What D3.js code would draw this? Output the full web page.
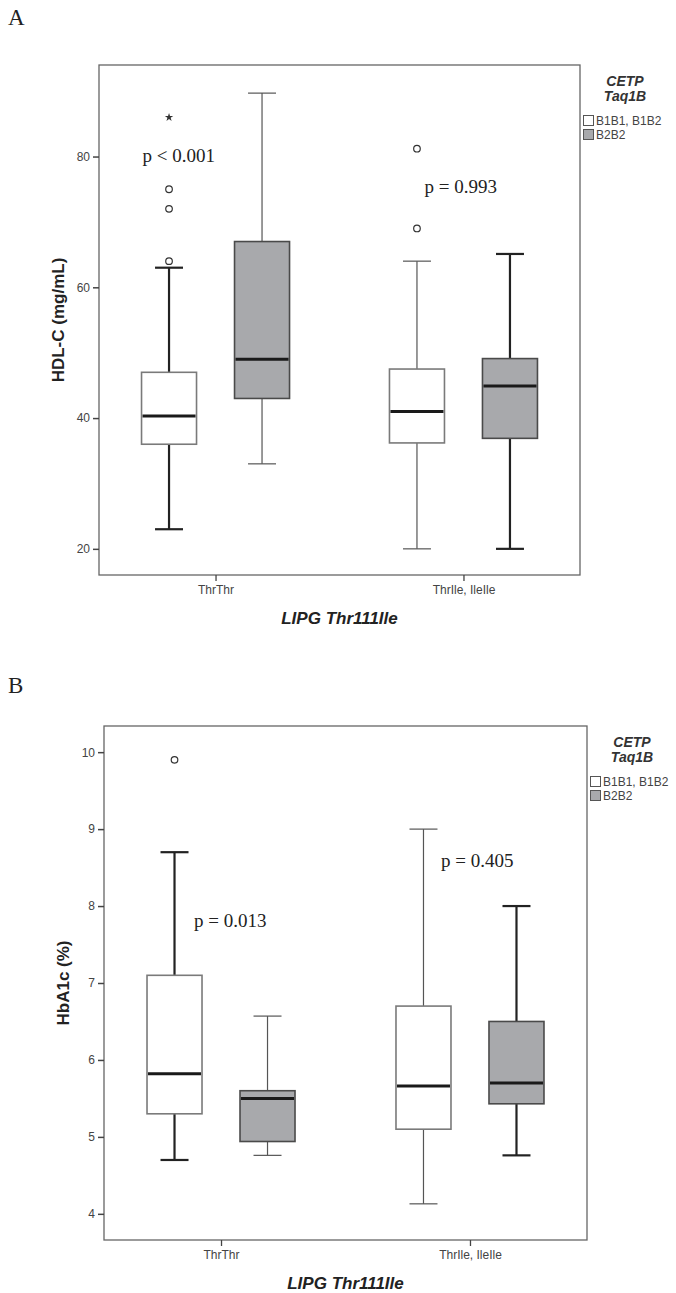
<!DOCTYPE html>
<html>
<head>
<meta charset="utf-8">
<script src="https://cdn.jsdelivr.net/npm/d3@7"></script>
<style>
  body { margin: 0; background: #fff; }
  svg { display: block; }
</style>
</head>
<body>
<svg id="chart" width="676" height="1293"></svg>
<script>
// categories
const genotypes = ["ThrThr", "ThrIle, IleIle"];
const groups = ["B1B1, B1B2", "B2B2"];

// box stats per genotype: [lower whisker, Q1, median, Q3, upper whisker]
const hdlStatsB1 = [[23, 36, 40.3, 47, 63], [20, 36.2, 41, 47.5, 64]];
const hdlStatsB2 = [[33, 43, 49, 67, 89.7], [20, 36.9, 44.9, 49.1, 65.1]];
const hba1cStatsB1 = [[4.7, 5.3, 5.82, 7.1, 8.7], [4.13, 5.1, 5.66, 6.7, 9.0]];
const hba1cStatsB2 = [[4.76, 4.94, 5.5, 5.6, 6.57], [4.76, 5.43, 5.7, 6.5, 8.0]];

// outliers: [genotype index, group index, value, kind]
const hdlOutliers = [[0, 0, 64, "o"], [0, 0, 72, "o"], [0, 0, 75, "o"], [0, 0, 86, "*"], [1, 0, 69, "o"], [1, 0, 81.2, "o"]];
const hba1cOutliers = [[0, 0, 9.9, "o"]];

// p-value labels: [genotype index, value at baseline, text]
const hdlPvals = [[0, 79.1, "p < 0.001"], [1, 74.5, "p = 0.993"]];
const hba1cPvals = [[0, 7.73, "p = 0.013"], [1, 8.51, "p = 0.405"]];

const hdlTicks = [20, 40, 60, 80];
const hba1cTicks = [4, 5, 6, 7, 8, 9, 10];

const svg = d3.select("#chart");
const sans = "'Liberation Sans', Arial, sans-serif";
const serif = "'Liberation Serif', 'Times New Roman', serif";
const grayFill = "#a8a9ac";

const drawPanel = (cfg) => {
    const { left, right, top, bottom } = cfg.frame;
    const g = svg.append("g");

    const y = d3.scaleLinear().domain(cfg.domain).range([bottom, top]);
    const x = d3.scalePoint().domain(genotypes).range([left, right]).padding(0.47);
    const dx = d3.scalePoint().domain(groups).range([-46.5, 46.5]);
    const boxW = 55, capW = 28;

    // panel letter
    g.append("text")
        .attr("x", 8).attr("y", cfg.letterY)
        .attr("font-family", serif).attr("font-size", 23).attr("fill", "#222")
        .text(cfg.letter);

    // frame
    g.append("rect")
        .attr("x", left).attr("y", top)
        .attr("width", right - left).attr("height", bottom - top)
        .attr("fill", "none").attr("stroke", "#666").attr("stroke-width", 1.3);

    // y axis
    const ya = g.append("g")
        .attr("transform", `translate(${left},0)`)
        .call(d3.axisLeft(y).tickValues(cfg.ticks).tickSize(6).tickPadding(3).tickFormat(d3.format("d")));
    ya.select(".domain").remove();
    ya.selectAll(".tick line").attr("stroke", "#444").attr("stroke-width", 1.5);
    ya.selectAll(".tick text").attr("font-family", sans).attr("font-size", 12).attr("fill", "#444");

    // x axis
    const xa = g.append("g")
        .attr("transform", `translate(0,${bottom})`)
        .call(d3.axisBottom(x).tickSize(6).tickPadding(4));
    xa.select(".domain").remove();
    xa.selectAll(".tick line").attr("stroke", "#444").attr("stroke-width", 1.3);
    xa.selectAll(".tick text").attr("font-family", sans).attr("font-size", 12).attr("fill", "#444");

    // axis titles
    g.append("text")
        .attr("transform", `translate(${left - 35},${(top + bottom) / 2}) rotate(-90)`)
        .attr("text-anchor", "middle")
        .attr("font-family", sans).attr("font-weight", "bold").attr("font-size", 17).attr("fill", "#222")
        .text(cfg.yTitle);
    g.append("text")
        .attr("x", (left + right) / 2).attr("y", bottom + 49)
        .attr("text-anchor", "middle")
        .attr("font-family", sans).attr("font-weight", "bold").attr("font-style", "italic")
        .attr("font-size", 17).attr("fill", "#222")
        .text("LIPG Thr111Ile");

    // boxes
    const series = [
        { group: groups[0], stats: cfg.statsB1, fill: "#fff", stroke: "#7a7a7a" },
        { group: groups[1], stats: cfg.statsB2, fill: grayFill, stroke: "#4a4a4a" }
    ];
    series.forEach((s, si) => {
        s.stats.forEach((d, gi) => {
            const cx = x(genotypes[gi]) + dx(s.group);
            const thick = cfg.thickWhisker[gi][si];
            const wStroke = thick ? "#222" : "#555";
            const wWidth = thick ? 2.2 : 1.2;
            const bg = g.append("g");
            // whiskers
            [[d[0], d[1]], [d[3], d[4]]].forEach(([a, b]) => {
                bg.append("line")
                    .attr("x1", cx).attr("x2", cx).attr("y1", y(a)).attr("y2", y(b))
                    .attr("stroke", wStroke).attr("stroke-width", wWidth);
            });
            [d[0], d[4]].forEach(v => {
                bg.append("line")
                    .attr("x1", cx - capW / 2).attr("x2", cx + capW / 2).attr("y1", y(v)).attr("y2", y(v))
                    .attr("stroke", wStroke).attr("stroke-width", wWidth);
            });
            // box
            bg.append("rect")
                .attr("x", cx - boxW / 2).attr("y", y(d[3]))
                .attr("width", boxW).attr("height", y(d[1]) - y(d[3]))
                .attr("fill", s.fill).attr("stroke", s.stroke).attr("stroke-width", 1.6);
            // median
            bg.append("line")
                .attr("x1", cx - boxW / 2 + 1).attr("x2", cx + boxW / 2 - 1)
                .attr("y1", y(d[2])).attr("y2", y(d[2]))
                .attr("stroke", "#1a1a1a").attr("stroke-width", 3);
        });
    });

    // outliers
    cfg.outliers.forEach(([gi, si, v, kind]) => {
        const cx = x(genotypes[gi]) + dx(groups[si]);
        if (kind === "o") {
            g.append("circle")
                .attr("cx", cx).attr("cy", y(v)).attr("r", 3.3)
                .attr("fill", "#fff").attr("stroke", "#333").attr("stroke-width", 1.2);
        } else {
            g.append("path")
                .attr("transform", `translate(${cx},${y(v)})`)
                .attr("d", d3.symbol(d3.symbolStar, 22)())
                .attr("fill", "#333");
        }
    });

    // p-values
    cfg.pvals.forEach(([gi, v, t], i) => {
        g.append("text")
            .attr("x", x(genotypes[gi]) + cfg.pOffsets[i]).attr("y", y(v))
            .attr("font-family", serif).attr("font-size", 19).attr("fill", "#222")
            .text(t);
    });

    // legend
    const lg = g.append("g").attr("transform", `translate(${right},${top})`);
    ["CETP", "Taq1B"].forEach((t, i) => {
        lg.append("text")
            .attr("x", 45).attr("y", 21 + i * 15)
            .attr("text-anchor", "middle")
            .attr("font-family", sans).attr("font-weight", "bold").attr("font-style", "italic")
            .attr("font-size", 14).attr("fill", "#333")
            .text(t);
    });
    series.forEach((s, i) => {
        lg.append("rect")
            .attr("x", 3.5).attr("y", 50.5 + i * 14).attr("width", 10).attr("height", 10)
            .attr("fill", s.fill).attr("stroke", "#555").attr("stroke-width", 1);
        lg.append("text")
            .attr("x", 16).attr("y", 59.5 + i * 14)
            .attr("font-family", sans).attr("font-size", 12).attr("fill", "#444")
            .text(s.group);
    });
};

drawPanel({
    letter: "A", letterY: 25,
    frame: { left: 99, right: 580, top: 65, bottom: 575 },
    domain: [16, 94], ticks: hdlTicks,
    yTitle: "HDL-C (mg/mL)",
    statsB1: hdlStatsB1, statsB2: hdlStatsB2,
    thickWhisker: [[true, false], [false, true]],
    outliers: hdlOutliers,
    pvals: hdlPvals, pOffsets: [-73, -39]
});

drawPanel({
    letter: "B", letterY: 693,
    frame: { left: 104, right: 587, top: 726, bottom: 1240 },
    domain: [3.66, 10.34], ticks: hba1cTicks,
    yTitle: "HbA1c (%)",
    statsB1: hba1cStatsB1, statsB2: hba1cStatsB2,
    thickWhisker: [[true, false], [false, true]],
    outliers: hba1cOutliers,
    pvals: hba1cPvals, pOffsets: [-27, -29]
});
</script>
</body>
</html>
